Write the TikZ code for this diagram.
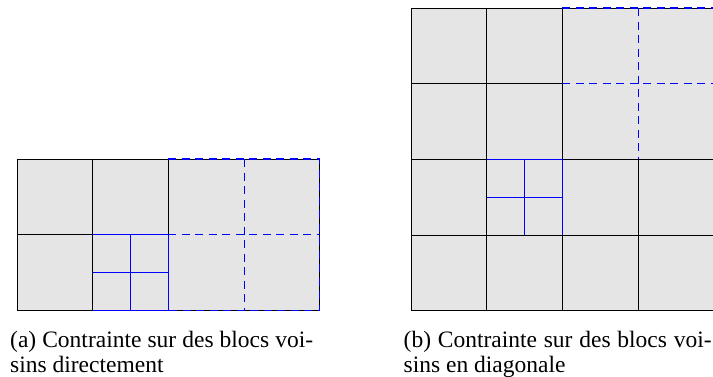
\documentclass[tikz,border=0pt]{standalone}
\usepackage{fontspec}
\setmainfont{Liberation Serif}
\begin{document}
\begin{tikzpicture}[x=1pt,y=-1pt,
  gridline/.style={black,line width=0.9pt},
  blueline/.style={blue,line width=1pt},
  bluedash/.style={blue,line width=1.1pt,dash pattern=on 8pt off 5.5pt},
  captext/.style={anchor=base west,inner sep=0pt,font=\fontsize{23.5}{25}\selectfont}]
\useasboundingbox (0,0) rectangle (713,376);
% ---------- left panel ----------
\fill[black!10] (17,159) rectangle (319.8,310.4);
% black grid
\draw[gridline] (17,159) rectangle (319.8,310.4);
\draw[gridline] (92.7,159) -- (92.7,310.4);
\draw[gridline] (168.4,159) -- (168.4,234.7);
\draw[gridline] (17,234.7) -- (92.7,234.7);
% small subdivided block
\draw[blueline] (92.7,234.7) -- (168.4,234.7) -- (168.4,310.4) -- (92.7,310.4);
\draw[gridline] (92.7,234.7) -- (92.7,310.4);
\draw[blueline,line width=0.9pt] (130.55,234.7) -- (130.55,310.4);
\draw[blueline,line width=0.9pt] (92.7,272.55) -- (168.4,272.55);
% dashed block
\draw[bluedash] (168.4,159) -- (319.8,159) -- (319.8,310.4) -- (168.4,310.4);
\draw[bluedash] (244.1,159) -- (244.1,310.4);
\draw[bluedash] (168.4,234.7) -- (319.8,234.7);
% ---------- right panel ----------
\fill[black!10] (411,8) rectangle (713.8,310.8);
\draw[gridline] (411,8) rectangle (713.8,310.8);
\draw[gridline] (486.7,8) -- (486.7,310.8);
\draw[gridline] (562.4,8) -- (562.4,310.8);
\draw[gridline] (638.1,159.4) -- (638.1,310.8);
\draw[gridline] (411,83.7) -- (562.4,83.7);
\draw[gridline] (411,159.4) -- (713.8,159.4);
\draw[gridline] (411,235.1) -- (713.8,235.1);
% small subdivided block
\draw[blueline] (486.7,159.4) -- (562.4,159.4) -- (562.4,235.1);
\draw[blueline,line width=0.9pt] (524.55,159.4) -- (524.55,235.1);
\draw[blueline,line width=0.9pt] (486.7,197.25) -- (562.4,197.25);
% dashed block
\draw[bluedash] (562.4,8) -- (713.8,8);
\draw[bluedash] (638.1,8) -- (638.1,159.4);
\draw[bluedash] (562.4,83.7) -- (713.8,83.7);
% ---------- captions ----------
\node[captext] (capa1) at (10,347) {\makebox[303pt][s]{(a) Contrainte sur des blocs voi-}};
\node[captext] (capa2) at (10,372) {sins directement};
\node[captext] (capb1) at (403.5,347) {\makebox[308pt][s]{(b) Contrainte sur des blocs voi-}};
\node[captext] (capb2) at (403.5,372) {sins en diagonale};
\end{tikzpicture}
\end{document}
